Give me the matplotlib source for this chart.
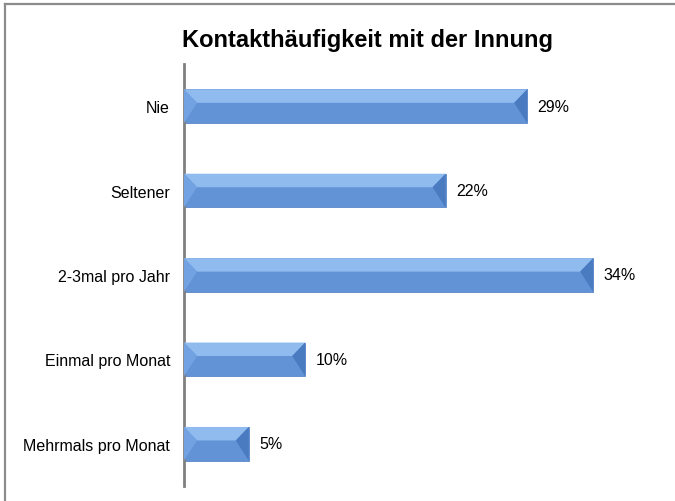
# Módulos necesarios
import matplotlib
matplotlib.use('Agg')
import matplotlib.pyplot as plt
from matplotlib.lines import Line2D
from matplotlib.patches import Polygon

plt.rcParams['font.family'] = ['Liberation Sans', 'DejaVu Sans']

# Datos del gráfico
categorias = ['Nie', 'Seltener', '2-3mal pro Jahr', 'Einmal pro Monat', 'Mehrmals pro Monat']
valores = [28.6, 21.8, 34.1, 10.1, 5.4]
etiquetas = ['29%', '22%', '34%', '10%', '5%']
titulo = 'Kontakthäufigkeit mit der Innung'

# Colores de las barras (bisel estilo Excel)
COL_BASE = '#6293D6'
COL_ARRIBA = '#90BBEF'
COL_IZQ = '#72A2E2'
COL_DER = '#4A7ABF'

# Tamaño y posición de los ejes
W_PX, H_PX = 675, 502
LEFT, BOTTOM, WIDTH, HEIGHT = 184 / W_PX, 15 / H_PX, 480 / W_PX, 422 / H_PX
XMAX = 40.0
ALTO = 0.4

fig = plt.figure(figsize=(W_PX / 100, H_PX / 100), dpi=100)
ax = fig.add_axes([LEFT, BOTTOM, WIDTH, HEIGHT])

pos = list(range(len(categorias)))
ax.barh(pos, valores, height=ALTO, color=COL_BASE, edgecolor='#5A88C8', linewidth=0.6, zorder=2)

ax.set_xlim(0, XMAX)
ax.set_ylim(len(categorias) - 0.5, -0.5)

# Bisel: facetas calculadas a partir de cada barra
px_x = WIDTH * W_PX / XMAX
for i, v in zip(pos, valores):
    bx = min(13 / px_x, v / 2)
    yt = i - ALTO / 2
    yb = i + ALTO / 2
    ym = yt + 0.4 * ALTO
    ax.add_patch(Polygon([(0, yt), (v, yt), (v - bx, ym), (bx, ym)], closed=True,
                         facecolor=COL_ARRIBA, edgecolor='none', zorder=3))
    ax.add_patch(Polygon([(0, yt), (bx, ym), (0, yb)], closed=True,
                         facecolor=COL_IZQ, edgecolor='none', zorder=3))
    ax.add_patch(Polygon([(v, yt), (v - bx, ym), (v, yb)], closed=True,
                         facecolor=COL_DER, edgecolor='none', zorder=3))

# Etiquetas de valor
for i, v, txt in zip(pos, valores, etiquetas):
    ax.text(v + 0.85, i, txt, va='center', ha='left', fontsize=11.5, color='black')

# Ejes
ax.set_yticks(pos)
ax.set_yticklabels(categorias, fontsize=11.5)
ax.set_xticks([])
ax.tick_params(axis='y', length=0, pad=10)
for lado in ['top', 'right', 'bottom']:
    ax.spines[lado].set_visible(False)
ax.spines['left'].set_color('#808080')
ax.spines['left'].set_linewidth(2)

# Título
fig.text(368 / W_PX, 1 - 40 / H_PX, titulo, ha='center', va='center',
         fontsize=17, fontweight='bold')

# Marco exterior (solo arriba e izquierda visibles)
fig.add_artist(Line2D([5 / W_PX, 1], [1 - 5 / H_PX, 1 - 5 / H_PX], color='#8C8C8C', lw=1.6))
fig.add_artist(Line2D([5 / W_PX, 5 / W_PX], [0, 1 - 5 / H_PX], color='#8C8C8C', lw=1.6))

fig.savefig('out.png', dpi=100)
